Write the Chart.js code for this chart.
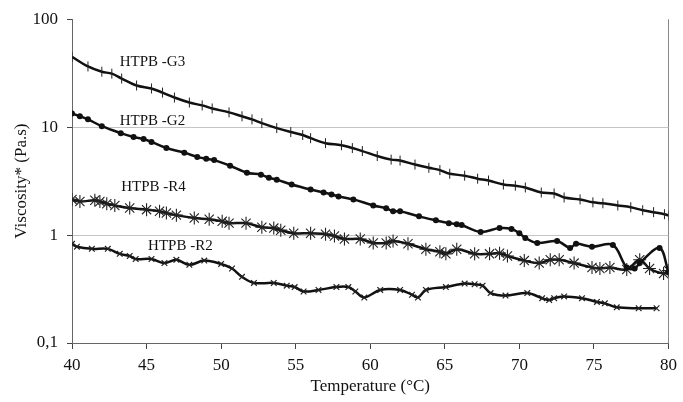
<!DOCTYPE html>
<html>
<head>
<meta charset="utf-8">
<script src="https://cdn.jsdelivr.net/npm/chart.js@4/dist/chart.umd.min.js"></script>
<style>
  body { margin: 0; background: #fff; }
</style>
</head>
<body>
<canvas id="canvas-visc" width="683" height="402"></canvas>
<script>
// temperatures (°C) and viscosities (Pa.s)
var g3Temp = [40, 41.07, 42.0, 42.67, 43.33, 44.33, 45.33, 46.07, 46.87, 47.87, 48.73, 49.4, 50.53, 51.4, 52.07, 52.73, 53.73, 54.67, 55.47, 56.0, 57.0, 58.07, 58.8, 59.47, 60.47, 61.4, 62.0, 63.0, 63.93, 64.67, 65.33, 66.33, 67.2, 67.93, 68.93, 69.73, 70.4, 71.47, 72.33, 73.0, 74.07, 74.93, 75.6, 76.6, 77.47, 78.27, 79.0, 79.73, 80];
var g3Visc = [44.8, 36.5, 32.6, 31.3, 28.2, 24.3, 22.8, 20.9, 18.8, 16.9, 15.9, 14.9, 13.7, 12.6, 11.8, 10.9, 9.8, 9.0, 8.45, 7.9, 7.1, 6.8, 6.4, 6.0, 5.4, 5.0, 4.9, 4.5, 4.2, 4.0, 3.7, 3.55, 3.33, 3.2, 2.94, 2.87, 2.76, 2.48, 2.43, 2.23, 2.14, 2.01, 1.97, 1.88, 1.81, 1.70, 1.63, 1.56, 1.52];

var g2Temp = [40, 40.53, 41.07, 42.0, 43.27, 44.13, 44.8, 45.33, 46.33, 47.53, 48.4, 49.0, 49.53, 50.6, 51.73, 52.67, 53.2, 53.73, 54.73, 56.0, 56.87, 57.4, 57.87, 58.87, 60.2, 61.07, 61.53, 62.0, 63.27, 64.4, 65.27, 65.8, 66.13, 67.4, 68.67, 69.47, 70.0, 70.4, 71.2, 72.53, 73.4, 73.8, 74.87, 76.27, 77.2, 77.73, 78.07, 79.4, 80];
var g2Visc = [13.4, 12.6, 11.8, 10.2, 8.8, 8.1, 7.76, 7.3, 6.4, 5.8, 5.3, 5.1, 4.95, 4.39, 3.78, 3.63, 3.4, 3.26, 2.94, 2.64, 2.48, 2.38, 2.28, 2.14, 1.88, 1.77, 1.66, 1.66, 1.49, 1.37, 1.29, 1.26, 1.24, 1.07, 1.16, 1.14, 1.04, 0.94, 0.845, 0.88, 0.76, 0.83, 0.78, 0.81, 0.50, 0.49, 0.55, 0.76, 0.45];

var r4Temp = [40, 40.53, 41.53, 41.87, 42.33, 42.87, 43.87, 45.0, 45.87, 46.33, 47.0, 48.2, 49.2, 50.07, 50.53, 51.67, 52.73, 53.53, 54.0, 54.87, 56.0, 57.0, 57.6, 58.27, 59.33, 60.2, 61.07, 61.53, 62.53, 63.73, 64.67, 65.07, 65.8, 67.0, 68.0, 68.67, 69.2, 70.33, 71.33, 72.07, 72.67, 73.67, 74.87, 75.4, 76.07, 77.2, 78.07, 78.73, 79.67, 80];
var r4Visc = [2.14, 2.05, 2.1, 2.05, 1.95, 1.88, 1.78, 1.72, 1.66, 1.6, 1.53, 1.44, 1.40, 1.34, 1.29, 1.29, 1.18, 1.16, 1.11, 1.04, 1.04, 1.02, 0.98, 0.92, 0.92, 0.845, 0.845, 0.88, 0.83, 0.74, 0.70, 0.67, 0.74, 0.67, 0.67, 0.68, 0.64, 0.58, 0.55, 0.59, 0.59, 0.55, 0.50, 0.49, 0.50, 0.48, 0.59, 0.49, 0.44, 0.47];

var r2Temp = [40, 40.33, 41.33, 42.4, 43.2, 43.87, 44.27, 45.33, 46.2, 47.0, 47.87, 48.87, 50.0, 50.73, 51.4, 52.2, 53.53, 54.4, 54.93, 55.53, 56.53, 57.73, 58.53, 59.0, 59.6, 60.67, 62.0, 62.8, 63.2, 63.73, 65.07, 66.33, 67.0, 67.53, 68.07, 69.07, 70.53, 71.53, 72.0, 72.33, 73.0, 74.2, 75.2, 75.73, 76.53, 78.0, 79.2];
var r2Visc = [0.83, 0.78, 0.745, 0.745, 0.67, 0.64, 0.60, 0.60, 0.55, 0.59, 0.53, 0.58, 0.54, 0.49, 0.41, 0.36, 0.36, 0.34, 0.33, 0.30, 0.31, 0.33, 0.33, 0.30, 0.264, 0.31, 0.31, 0.28, 0.264, 0.31, 0.33, 0.355, 0.35, 0.34, 0.29, 0.275, 0.29, 0.26, 0.25, 0.26, 0.27, 0.26, 0.24, 0.233, 0.214, 0.21, 0.21];

var xTicks = [40, 45, 50, 55, 60, 65, 70, 75, 80];
var yTicks = [0.1, 1, 10, 100];

// series labels written inside the plot: [text, temperature, viscosity]
var seriesNames = ['HTPB -G3', 'HTPB -G2', 'HTPB -R4', 'HTPB -R2'];
var nameTemp = [43.2, 43.2, 43.3, 45.1];
var nameVisc = [40, 11.4, 2.8, 0.79];

var serif = 'Liberation Serif, Times New Roman, serif';

// turn two arrays into {x, y} points
function toPoints(temps, values) {
    var points = [];
    for (var i = 0; i < temps.length; i++) {
        points.push({ x: temps[i], y: values[i] });
    }
    return points;
}

function makeSeries(label, temps, values, style) {
    return Object.assign({
        label: label,
        data: toPoints(temps, values),
        borderColor: '#111',
        backgroundColor: '#111',
        borderWidth: 2.5,
        tension: 0.35,
        pointBorderColor: '#222',
        pointBackgroundColor: '#111'
    }, style);
}

// plugin that writes the series names next to the curves
var seriesNamePlugin = {
    id: 'seriesNames',
    afterDatasetsDraw: function(chart) {
        var ctx = chart.ctx;
        var xs = chart.scales.x;
        var ys = chart.scales.y;
        ctx.save();
        ctx.font = '15px ' + serif;
        ctx.fillStyle = '#111';
        ctx.textBaseline = 'middle';
        ctx.textAlign = 'left';
        for (var i = 0; i < seriesNames.length; i++) {
            ctx.fillText(seriesNames[i], xs.getPixelForValue(nameTemp[i]), ys.getPixelForValue(nameVisc[i]));
        }
        ctx.restore();
    }
};

var ctx = document.getElementById('canvas-visc').getContext('2d');
var viscChart = new Chart(ctx, {
    type: 'line',
    data: {
        datasets: [
            makeSeries('HTPB -G3', g3Temp, g3Visc, { pointStyle: 'line', pointRotation: 90, pointRadius: 5, pointBorderWidth: 1 }),
            makeSeries('HTPB -G2', g2Temp, g2Visc, { pointStyle: 'circle', pointRadius: 3, pointBorderWidth: 0 }),
            makeSeries('HTPB -R4', r4Temp, r4Visc, { pointStyle: 'star', pointRadius: 6.5, pointBorderWidth: 1.1 }),
            makeSeries('HTPB -R2', r2Temp, r2Visc, { pointStyle: 'crossRot', pointRadius: 4, pointBorderWidth: 1.2 })
        ]
    },
    options: {
        responsive: false,
        animation: false,
        layout: { autoPadding: false, padding: { top: 16, right: 8, left: 0, bottom: 0 } },
        plugins: {
            legend: { display: false },
            tooltip: { enabled: false }
        },
        scales: {
            x: {
                type: 'linear',
                min: 40,
                max: 80,
                afterFit: function(scale) { scale.height = 59; },
                afterBuildTicks: function(scale) {
                    scale.ticks = xTicks.map(function(v) { return { value: v }; });
                },
                ticks: {
                    color: '#111',
                    font: { family: serif, size: 17 },
                    padding: 6,
                    maxRotation: 0
                },
                grid: {
                    color: function(c) { return c.tick && c.tick.value === 80 ? '#888' : 'rgba(0,0,0,0)'; },
                    tickColor: '#444',
                    tickLength: 6
                },
                border: { color: '#666', width: 1 },
                title: {
                    display: true,
                    text: 'Temperature (°C)',
                    color: '#111',
                    font: { family: serif, size: 17 },
                    padding: { top: 0, bottom: 5 }
                }
            },
            y: {
                type: 'logarithmic',
                min: 0.1,
                max: 100,
                afterFit: function(scale) { scale.width = 72; },
                afterBuildTicks: function(scale) {
                    scale.ticks = yTicks.map(function(v) { return { value: v }; });
                },
                ticks: {
                    color: '#111',
                    font: { family: serif, size: 17 },
                    padding: 9,
                    callback: function(value) { return String(value).replace('.', ','); }
                },
                grid: {
                    color: function(c) {
                        var v = c.tick ? c.tick.value : 0;
                        return (v === 1 || v === 10) ? '#c4c4c4' : 'rgba(0,0,0,0)';
                    },
                    tickColor: '#444',
                    tickLength: 5
                },
                border: { color: '#666', width: 1 },
                title: {
                    display: true,
                    text: 'Viscosity* (Pa.s)',
                    color: '#111',
                    font: { family: serif, size: 17 },
                    padding: { top: 11, bottom: 0 }
                }
            }
        }
    },
    plugins: [seriesNamePlugin]
});
</script>
</body>
</html>
